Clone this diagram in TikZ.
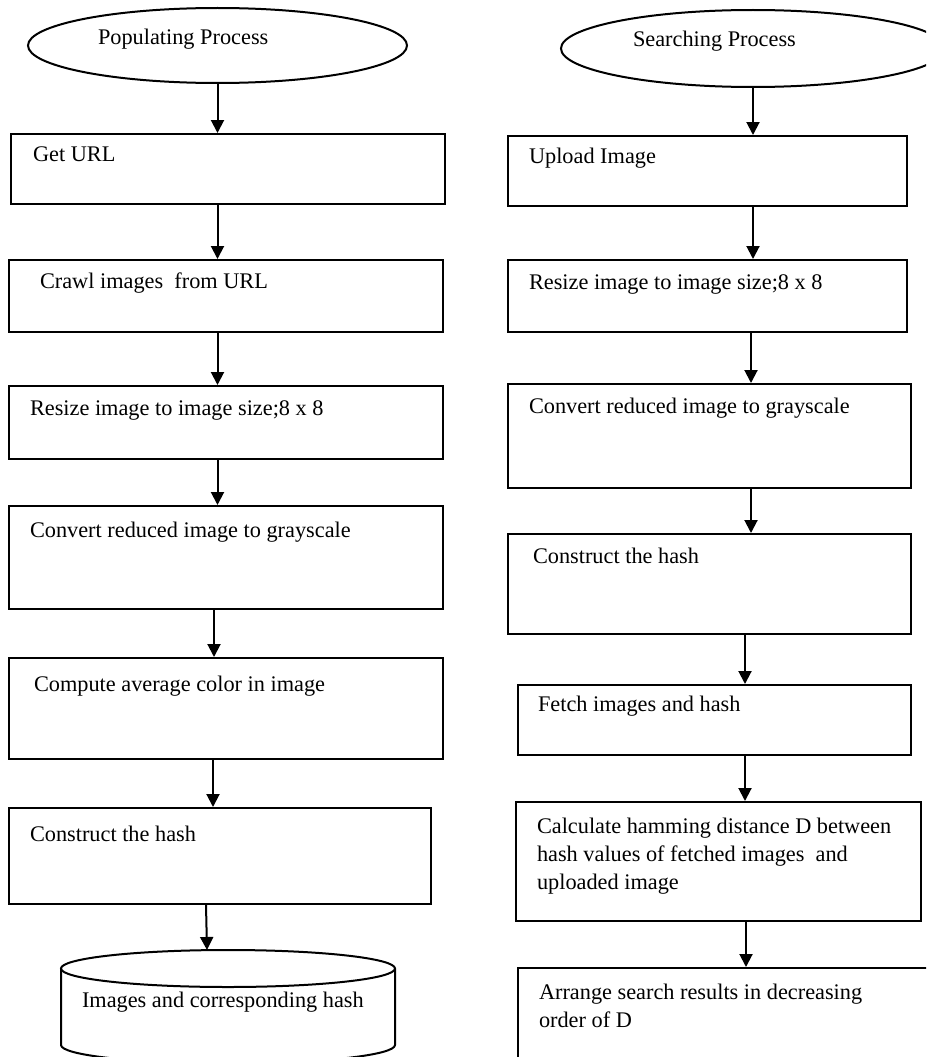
\documentclass[tikz,border=0pt]{standalone}
\usepackage{fontspec}
\setmainfont{Liberation Serif}
\usetikzlibrary{arrows.meta,shapes.geometric}

\begin{document}
\begin{tikzpicture}[x=1pt,y=-1pt,line width=2pt,>={Triangle[width=13pt,length=13pt]},
  box/.style={draw,inner sep=0pt},
  lbl/.style={inner sep=0pt,align=left,font=\fontsize{22.3}{28}\selectfont}]
\clip (0,0) rectangle (926,1057);
% start nodes
\node (pop)  at (217.5,45.5) [shape=ellipse,draw,minimum width=379pt,minimum height=75pt] {};
\node (srch) at (753,48.5)   [shape=ellipse,draw,minimum width=384pt,minimum height=77pt] {};
% populating boxes
\node (L1) at (228,169)   [box,minimum width=434pt,minimum height=70pt] {};
\node (L2) at (226,296)   [box,minimum width=434pt,minimum height=72pt] {};
\node (L3) at (226,422.5) [box,minimum width=434pt,minimum height=73pt] {};
\node (L4) at (226,557.5) [box,minimum width=434pt,minimum height=103pt] {};
\node (L5) at (226,708.5) [box,minimum width=434pt,minimum height=101pt] {};
\node (L6) at (220,856)   [box,minimum width=422pt,minimum height=96pt] {};
% searching boxes
\node (R1) at (707.5,171)  [box,minimum width=399pt,minimum height=70pt] {};
\node (R2) at (707.5,296)  [box,minimum width=399pt,minimum height=72pt] {};
\node (R3) at (709.5,436)  [box,minimum width=403pt,minimum height=104pt] {};
\node (R4) at (709.5,584)  [box,minimum width=403pt,minimum height=100pt] {};
\node (R5) at (714.5,720)  [box,minimum width=393pt,minimum height=70pt] {};
\node (R6) at (718.5,861.5)[box,minimum width=405pt,minimum height=119pt] {};
\node (R7) at (727,1021.5) [box,minimum width=418pt,minimum height=107pt] {};
% database
\coordinate (db) at (228,950);
\draw (61,968.5) -- (61,1045) arc[start angle=180,end angle=360,x radius=167pt,y radius=18.5pt] -- (395,968.5);
\draw (228,968.5) ellipse[x radius=167pt,y radius=18.5pt];
% texts
\node (popt)  at (97,45)  [lbl,anchor=base west] {Populating Process};
\node (srcht) at (632,47) [lbl,anchor=base west] {Searching Process};
\node (L1t) at (32,161)  [lbl,anchor=base west] {Get URL};
\node (L2t) at (39,288)  [lbl,anchor=base west] {Crawl images~ from URL};
\node (L3t) at (29,415)  [lbl,anchor=base west] {Resize image to image size;8 x 8};
\node (L4t) at (29,537)  [lbl,anchor=base west] {Convert reduced image to grayscale};
\node (L5t) at (33,691)  [lbl,anchor=base west] {Compute average color in image};
\node (L6t) at (29,841)  [lbl,anchor=base west] {Construct the hash};
\node (dbt) at (81,1007) [lbl,anchor=base west] {Images and corresponding hash};
\node (R1t) at (528,163) [lbl,anchor=base west] {Upload Image};
\node (R2t) at (528,289) [lbl,anchor=base west] {Resize image to image size;8 x 8};
\node (R3t) at (528,413) [lbl,anchor=base west] {Convert reduced image to grayscale};
\node (R4t) at (532,563) [lbl,anchor=base west] {Construct the hash};
\node (R5t) at (537,711) [lbl,anchor=base west] {Fetch images and hash};
\node (R6t) at (536,816.8) [lbl,anchor=north west] {Calculate hamming distance D between\\hash values of fetched images~ and\\uploaded image};
\node (R7t) at (538,982.8) [lbl,anchor=north west] {Arrange search results in decreasing\\order of D};
% arrows
\draw [->] (pop.south) -- (pop.south |- L1.north);
\draw [->] (pop.south |- L1.south) -- (pop.south |- L2.north);
\draw [->] (pop.south |- L2.south) -- (pop.south |- L3.north);
\draw [->] (pop.south |- L3.south) -- (pop.south |- L4.north);
\draw [->] ([xshift=206pt]L4.south west) -- ([xshift=206pt]L5.north west);
\draw [->] ([xshift=205pt]L5.south west) -- ([xshift=205pt]L6.north west);
\draw [->] ([xshift=198pt]L6.south west) -- ([xshift=-21pt]db);
\draw [->] (srch.south) -- (srch.south |- R1.north);
\draw [->] (srch.south |- R1.south) -- (srch.south |- R2.north);
\draw [->] ([xshift=-2pt]srch.south |- R2.south) -- ([xshift=-2pt]srch.south |- R3.north);
\draw [->] ([xshift=-2pt]srch.south |- R3.south) -- ([xshift=-2pt]srch.south |- R4.north);
\draw [->] ([xshift=238pt]R4.south west) -- ([xshift=228pt]R5.north west);
\draw [->] ([xshift=228pt]R5.south west) -- ([xshift=230pt]R6.north west);
\draw [->] ([xshift=231pt]R6.south west) -- ([xshift=229pt]R7.north west);
\end{tikzpicture}
\end{document}
